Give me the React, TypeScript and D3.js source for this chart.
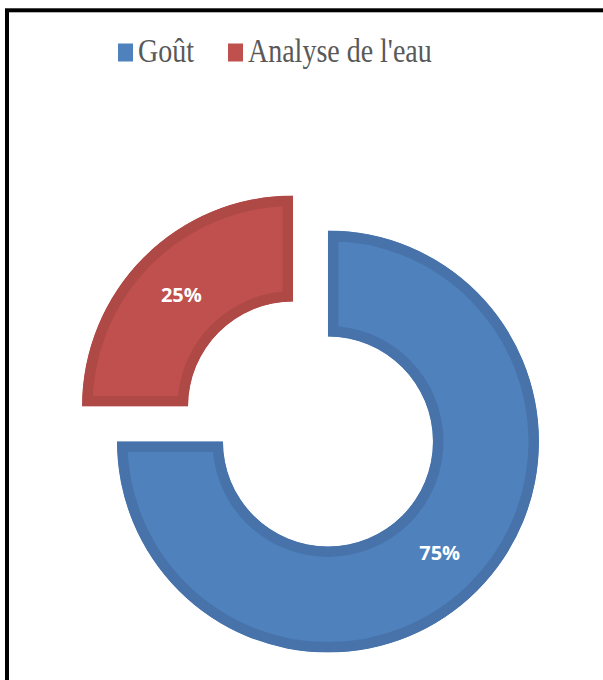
import React from "react";
import * as d3 from "d3";

const categories = ["Goût", "Analyse de l'eau"];
const values = [75, 25];
const labels = ["75%", "25%"];
const fills = ["#4F81BD", "#C0504D"];
const borders = ["#4773AA", "#AE4946"];

const W = 603;
const H = 680;
const cx = 310.5;
const cy = 424;
const outerR = 211;
const innerR = 105;
const explode = 24.7;

export default function App() {
  const pie = d3.pie<number>().sort(null).value((d) => d);
  const arcs = pie(values);
  const arc = d3.arc<d3.PieArcDatum<number>>().innerRadius(innerR).outerRadius(outerR);

  const legendItems = [
    { x: 118, textX: 138 },
    { x: 228, textX: 248 },
  ];

  return (
    <svg width={W} height={H} style={{ position: "absolute", left: 0, top: 0 }}>
      <rect x={0} y={0} width={W} height={H} fill="#fff" />
      <rect x={7} y={10.3} width={W + 50} height={H + 50} fill="none" stroke="#000" strokeWidth={4} />
      <defs>
        {arcs.map((a, i) => (
          <clipPath id={`clip-${i}`} key={i}>
            <path d={arc(a) || ""} />
          </clipPath>
        ))}
      </defs>
      {arcs.map((a, i) => {
        const mid = (a.startAngle + a.endAngle) / 2;
        const dx = Math.sin(mid) * explode;
        const dy = -Math.cos(mid) * explode;
        const [lx, ly] = arc.centroid(a);
        return (
          <g key={i} transform={`translate(${cx + dx},${cy + dy})`}>
            <path
              d={arc(a) || ""}
              fill={fills[i]}
              stroke={borders[i]}
              strokeWidth={21}
              clipPath={`url(#clip-${i})`}
            />
            <text
              x={lx}
              y={ly}
              dy="0.36em"
              textAnchor="middle"
              fill="#fff"
              fontFamily="'Open Sans', sans-serif"
              fontWeight={700}
              fontSize={20}
            >
              {labels[i]}
            </text>
          </g>
        );
      })}
      {categories.map((c, i) => (
        <g key={c}>
          <rect x={legendItems[i].x} y={43.5} width={15} height={18} fill={fills[i]} />
          <text
            transform={`translate(${legendItems[i].textX},62) scale(1,1.2)`}
            fontFamily="'Liberation Serif', 'Times New Roman', serif"
            fontSize={28}
            fill="#595959"
          >
            {c}
          </text>
        </g>
      ))}
    </svg>
  );
}
